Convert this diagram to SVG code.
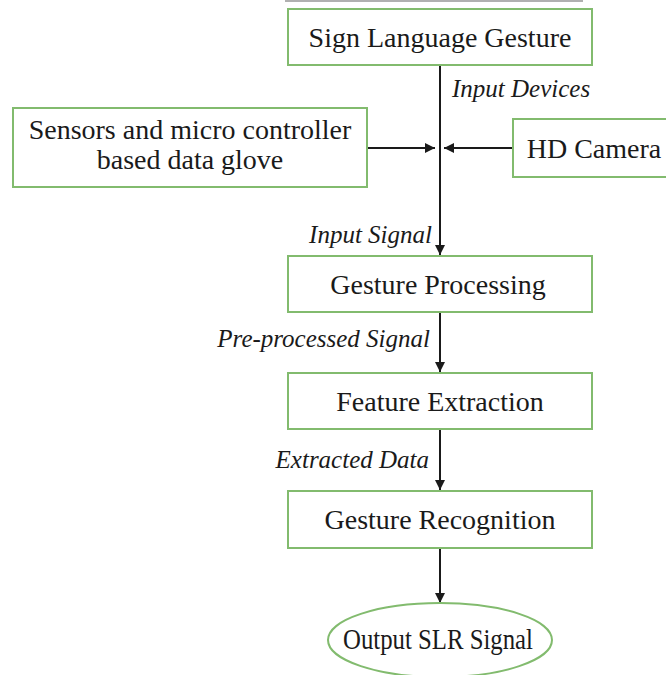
<svg xmlns="http://www.w3.org/2000/svg" width="666" height="675" viewBox="0 0 666 675">
<style>
.box{fill:#ffffff;stroke:#82bb6e;stroke-width:2}
.c{stroke:#1a1a1a;stroke-width:2;fill:none;marker-end:url(#ah)}
</style>
<defs>
<marker id="ah" viewBox="0 0 10 10" refX="10" refY="5" markerWidth="5" markerHeight="5" orient="auto" markerUnits="strokeWidth">
<path d="M0,0 L10,5 L0,10 Z" fill="#1a1a1a"/>
</marker>
</defs>
<rect width="666" height="675" fill="#ffffff"/>
<line x1="285" y1="1" x2="583" y2="1" stroke="#b0b0b0" stroke-width="2"/>
<g id="connectors">
<line class="c" x1="440" y1="65" x2="440" y2="255"/>
<line class="c" x1="367" y1="148" x2="435" y2="148"/>
<line class="c" x1="513" y1="148" x2="444" y2="148"/>
<line class="c" x1="440" y1="312" x2="440" y2="372"/>
<line class="c" x1="440" y1="429" x2="440" y2="490"/>
<line class="c" x1="440" y1="548" x2="440" y2="603"/>
<text x="452" y="97" style="font-family:'Liberation Serif',serif;font-size:25px;font-style:italic;fill:#1a1a1a">Input Devices</text>
<text x="432" y="243" style="font-family:'Liberation Serif',serif;font-size:25px;font-style:italic;fill:#1a1a1a;text-anchor:end">Input Signal</text>
<text x="430" y="347" style="font-family:'Liberation Serif',serif;font-size:25px;font-style:italic;fill:#1a1a1a;text-anchor:end">Pre-processed Signal</text>
<text x="429" y="468" style="font-family:'Liberation Serif',serif;font-size:25px;font-style:italic;fill:#1a1a1a;text-anchor:end">Extracted Data</text>
</g>
<g id="sign-language-gesture">
<rect class="box" x="288" y="9" width="304" height="56"/>
<text x="440" y="47" style="font-family:'Liberation Serif',serif;font-size:28px;fill:#1a1a1a;text-anchor:middle">Sign Language Gesture</text>
</g>
<g id="data-glove">
<rect class="box" x="13" y="108" width="354" height="79"/>
<text x="190" y="139" style="font-family:'Liberation Serif',serif;font-size:28px;fill:#1a1a1a;text-anchor:middle">Sensors and micro controller</text>
<text x="190" y="169" style="font-family:'Liberation Serif',serif;font-size:28px;fill:#1a1a1a;text-anchor:middle">based data glove</text>
</g>
<g id="hd-camera">
<rect class="box" x="513" y="119" width="170" height="58"/>
<text x="594" y="158" style="font-family:'Liberation Serif',serif;font-size:28px;fill:#1a1a1a;text-anchor:middle">HD Camera</text>
</g>
<g id="gesture-processing">
<rect class="box" x="288" y="256" width="304" height="56"/>
<text x="438" y="294" style="font-family:'Liberation Serif',serif;font-size:28px;fill:#1a1a1a;text-anchor:middle">Gesture Processing</text>
</g>
<g id="feature-extraction">
<rect class="box" x="288" y="373" width="304" height="56"/>
<text x="440" y="411" style="font-family:'Liberation Serif',serif;font-size:28px;fill:#1a1a1a;text-anchor:middle">Feature Extraction</text>
</g>
<g id="gesture-recognition">
<rect class="box" x="288" y="491" width="304" height="57"/>
<text x="440" y="529" style="font-family:'Liberation Serif',serif;font-size:28px;fill:#1a1a1a;text-anchor:middle">Gesture Recognition</text>
</g>
<g id="output-slr-signal">
<ellipse class="box" cx="440" cy="640" rx="112" ry="37"/>
<text x="438" y="649" textLength="190" lengthAdjust="spacingAndGlyphs" style="font-family:'Liberation Serif',serif;font-size:29px;fill:#1a1a1a;text-anchor:middle">Output SLR Signal</text>
</g>
</svg>
